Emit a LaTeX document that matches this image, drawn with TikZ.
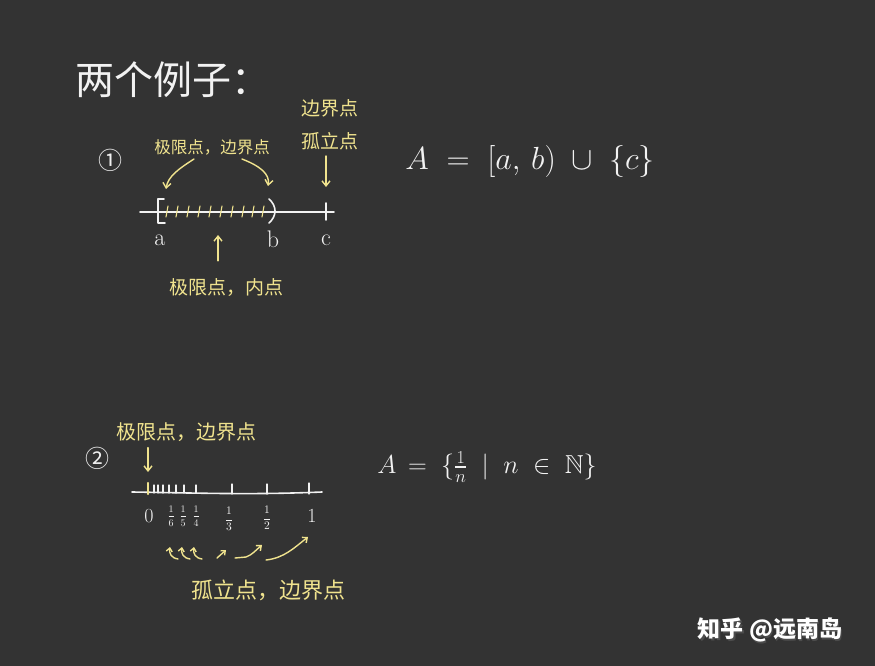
\RequirePackage{fix-cm}
\documentclass[tikz,border=0pt]{standalone}
\usepackage{amsmath,amssymb}
\usepackage{fontspec}
\newfontfamily\cjk{Noto Sans CJK SC}
\usetikzlibrary{arrows.meta,calc}
\definecolor{bg}{HTML}{333333}
\definecolor{chalky}{HTML}{F0E38E}
\definecolor{chalkw}{HTML}{F2F2F2}
\tikzset{
  ylab/.style={text=chalky, inner sep=0pt, font=\cjk\fontsize{#1}{#1}\selectfont},
  wtxt/.style={text=chalkw, inner sep=0pt, font=\fontsize{#1}{#1}\selectfont},
  wline/.style={draw=chalkw, line width=1.6pt, line cap=round, line join=round},
  yline/.style={draw=chalky, line width=1.4pt, line cap=round},
  yarrow/.style={draw=chalky, line width=1.4pt, line cap=round, -{Straight Barb[length=5pt,width=8pt]}},
}
\begin{document}
\begin{tikzpicture}[x=1pt,y=-1pt]
\fill[bg] (0,0) rectangle (875,666);
\useasboundingbox (0,0) rectangle (875,666);

% title
\node[text=chalkw, inner sep=0pt, font=\cjk\fontsize{39}{39}\selectfont] (title) at (173,80) {两个例子：};

% ---------- example 1 ----------
\node[text=chalkw, inner sep=0pt, font=\cjk\fontsize{24}{24}\selectfont] (n1) at (110,160) {①};
\node[ylab=19] (bd1) at (330,108) {边界点};
\node[ylab=19] (iso1) at (330,141) {孤立点};
\node[ylab=16.5] (lb1) at (212,147) {极限点，边界点};
\node[ylab=19] (li1) at (226,288) {极限点，内点};

\coordinate (l1s) at (140,212);
\coordinate (l1e) at (334,212);
\draw[wline] (l1s) -- (l1e);
% hatching
\foreach \x in {166,176,187,198,209,220,231,242,252,262}
  \draw[yline, line width=1.1pt] (\x,217) -- (\x+2,206);
% bracket [ at a
\coordinate (pa) at (158,212);
\draw[wline] ($(pa)+(6,-13)$) -- ($(pa)+(0,-13)$) -- ($(pa)+(0,11)$) -- ($(pa)+(7,11)$);
% parenthesis ) at b
\coordinate (pb) at (271,212);
\draw[wline] ($(pb)+(-2,-13)$) .. controls ($(pb)+(6,-6)$) and ($(pb)+(6,4)$) .. ($(pb)+(-2,11)$);
% tick at c
\coordinate (pc) at (326,212);
\draw[wline] ($(pc)+(0,-9)$) -- ($(pc)+(0,8)$);

\node[wtxt=24] (la) at (160,240) {$\mathrm{a}$};
\node[wtxt=24] (lb) at (273,239) {$\mathrm{b}$};
\node[wtxt=24] (lc) at (326,240) {$\mathrm{c}$};

\coordinate (arrL) at (166,189);
\coordinate (arrR) at (268,186);
\draw[yarrow] ($(lb1.south)+(-18,4)$) .. controls (180,168) and (168,176) .. (arrL);
\draw[yarrow] ($(lb1.south)+(30,4)$) .. controls (260,166) and (270,174) .. (arrR);
\draw[yarrow] ($(iso1.south)+(-4,6)$) -- ($(pc)+(0,-25)$);
\draw[yarrow] ($(li1.north)+(-8,-18)$) -- (218,235);

\node[wtxt=32] (set1) at (530,161)
  {$A\;=\;[a,\,b)\;\cup\;\{c\}$};

% ---------- example 2 ----------
\node[text=chalkw, inner sep=0pt, font=\cjk\fontsize{24}{24}\selectfont] (n2) at (97,458) {②};
\node[ylab=20] (lb2) at (186,432) {极限点，边界点};
\node[ylab=22] (ib2) at (268,590) {孤立点，边界点};

\coordinate (l2s) at (132,492);
\coordinate (l2e) at (322,492);
\draw[wline] (l2s) .. controls (200,493) and (250,495) .. (l2e);
\coordinate (p0) at (148,492);
\draw[yline, line width=2.4pt] ($(p0)+(0,-9)$) -- ($(p0)+(0,2)$);
\foreach \x in {154,158,163,169,176,184,196}
  \draw[wline, line width=1.3pt] (\x,485) -- (\x,493);
\draw[wline, line width=1.3pt] (232,484) -- (232,494);
\draw[wline, line width=1.3pt] (267,484) -- (267,494);
\draw[wline, line width=1.3pt] (309,483) -- (309,494);

\node[wtxt=20] (z0) at (149,516) {$0$};
\node[wtxt=10] (f6) at (171,516) {$\dfrac16$};
\node[wtxt=10] (f5) at (183,516) {$\dfrac15$};
\node[wtxt=10] (f4) at (196,516) {$\dfrac14$};
\node[wtxt=11.5] (f3) at (229,519) {$\dfrac13$};
\node[wtxt=11.5] (f2) at (267,518) {$\dfrac12$};
\node[wtxt=20] (f1) at (312,516) {$1$};

\draw[yarrow] ($(lb2.south)+(-38,6)$) -- ($(p0)+(0,-20)$);

% small arrows below
\foreach \x in {169,181,193}
  \draw[yarrow, -{Straight Barb[length=3.5pt,width=6pt]}] (\x+9,559) .. controls (\x+2,558) and (\x,553) .. (\x+1,547);
\draw[yarrow, -{Straight Barb[length=3.5pt,width=6pt]}] (217,558) -- (226,550);
\draw[yarrow, -{Straight Barb[length=4pt,width=7pt]}] (235,558) -- (246,557) .. controls (252,555) and (256,550) .. (262,545);
\draw[yarrow, -{Straight Barb[length=4pt,width=7pt]}] (266,560) .. controls (284,558) and (294,548) .. (308,537);

\node[wtxt=26] (set2) at (487,467)
  {$A\,=\;\{\tfrac{1}{n}\;\mid\;n\;\in\;\mathbb{N}\}$};

% watermark
\node[text=black!70, inner sep=0pt, font=\cjk\bfseries\fontsize{23}{23}\selectfont] at (771.5,631.5) {知乎 @远南岛};
\node[text=white, inner sep=0pt, font=\cjk\bfseries\fontsize{23}{23}\selectfont] (wm) at (770,630) {知乎 @远南岛};
\end{tikzpicture}
\end{document}
